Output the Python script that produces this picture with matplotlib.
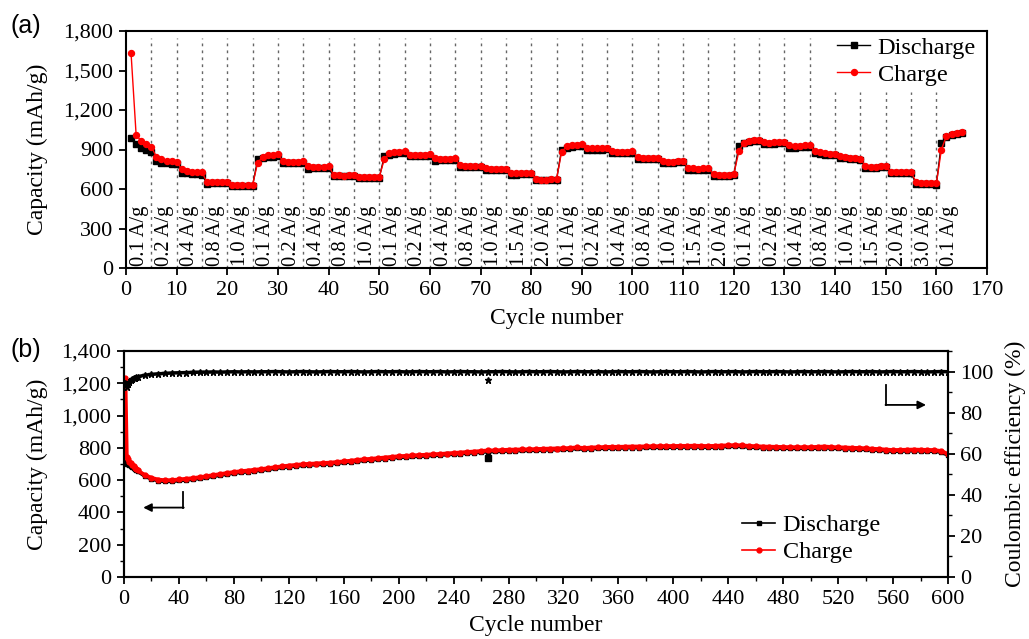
import matplotlib
matplotlib.use("Agg")
import matplotlib.pyplot as plt
from matplotlib.ticker import FuncFormatter, MultipleLocator

plt.rcParams['font.family'] = ['Liberation Serif', 'DejaVu Serif']
plt.rcParams['mathtext.fontset'] = 'stix'

# ---------------- Panel (a) data: rate capability ----------------
rates = ["0.1", "0.2", "0.4", "0.8", "1.0",
         "0.1", "0.2", "0.4", "0.8", "1.0",
         "0.1", "0.2", "0.4", "0.8", "1.0", "1.5", "2.0",
         "0.1", "0.2", "0.4", "0.8", "1.0", "1.5", "2.0",
         "0.1", "0.2", "0.4", "0.8", "1.0", "1.5", "2.0", "3.0", "0.1"]

discharge_a = [985, 945, 915, 895, 880,
               815, 800, 795, 792, 790,
               725, 718, 715, 712, 710,
               640, 642, 643, 645, 645,
               622, 622, 624, 624, 625,
               828, 838, 842, 845, 848,
               795, 795, 796, 797, 800,
               755, 757, 758, 758, 760,
               695, 695, 696, 697, 698,
               680, 680, 681, 682, 683,
               850, 862, 868, 872, 876,
               850, 850, 851, 852, 853,
               815, 818, 818, 819, 820,
               765, 765, 766, 767, 768,
               745, 746, 746, 747, 748,
               710, 710, 711, 712, 712,
               665, 665, 666, 667, 668,
               900, 915, 922, 926, 930,
               898, 898, 899, 900, 902,
               870, 872, 872, 873, 875,
               825, 826, 826, 827, 828,
               800, 800, 801, 802, 803,
               745, 746, 746, 747, 748,
               700, 701, 701, 702, 703,
               930, 948, 958, 962, 965,
               945, 942, 944, 946, 948,
               915, 915, 916, 917, 918,
               870, 866, 862, 860, 858,
               838, 834, 830, 826, 822,
               762, 762, 763, 764, 765,
               718, 718, 719, 720, 721,
               640, 638, 636, 635, 634,
               950, 995, 1008, 1015, 1022]

charge_a = [1630, 1010, 965, 940, 920,
            845, 825, 815, 812, 808,
            750, 738, 732, 730, 728,
            650, 652, 652, 654, 654,
            632, 630, 632, 632, 634,
            800, 845, 855, 860, 865,
            812, 805, 805, 806, 810,
            772, 768, 768, 768, 772,
            710, 704, 702, 703, 705,
            690, 688, 689, 690, 692,
            825, 870, 878, 883, 888,
            862, 860, 860, 861, 864,
            835, 830, 830, 831, 833,
            780, 776, 775, 776, 778,
            756, 752, 752, 753, 755,
            722, 718, 718, 719, 720,
            675, 672, 672, 673, 675,
            880, 925, 932, 935, 940,
            915, 910, 910, 912, 915,
            888, 884, 883, 884, 886,
            842, 838, 836, 836, 838,
            812, 808, 808, 809, 810,
            760, 756, 755, 756, 758,
            712, 708, 708, 709, 712,
            885, 952, 965, 975, 972,
            958, 952, 955, 958, 960,
            935, 930, 930, 931, 933,
            885, 878, 872, 868, 866,
            848, 842, 838, 834, 830,
            775, 770, 770, 771, 772,
            730, 726, 726, 727, 728,
            655, 648, 645, 644, 642,
            900, 1003, 1018, 1023, 1032]

cycles_a = list(range(1, len(charge_a) + 1))

# ---------------- Panel (b) data: long cycling ----------------
cycles_b = [1, 2, 3, 4, 5, 6, 7, 8, 9, 10,
            15, 20, 25, 30, 35, 40, 45, 50, 55, 60,
            65, 70, 75, 80, 85, 90, 95, 100, 105, 110,
            115, 120, 125, 130, 135, 140, 145, 150, 155, 160,
            165, 170, 175, 180, 185, 190, 195, 200, 205, 210,
            215, 220, 225, 230, 235, 240, 245, 250, 255, 260,
            265, 270, 275, 280, 285, 290, 295, 300, 305, 310,
            315, 320, 325, 330, 335, 340, 345, 350, 355, 360,
            365, 370, 375, 380, 385, 390, 395, 400, 405, 410,
            415, 420, 425, 430, 435, 440, 445, 450, 455, 460,
            465, 470, 475, 480, 485, 490, 495, 500, 505, 510,
            515, 520, 525, 530, 535, 540, 545, 550, 555, 560,
            565, 570, 575, 580, 585, 590, 595, 600]

charge_b = [1230, 745, 728, 715, 705, 695, 685, 676, 668, 660,
            632, 614, 603, 599, 600, 604, 608, 612, 618, 624,
            631, 637, 644, 650, 655, 659, 664, 668, 674, 680,
            685, 690, 694, 698, 701, 703, 706, 708, 712, 716,
            720, 725, 729, 732, 736, 740, 744, 748, 750, 753,
            755, 757, 760, 762, 765, 768, 771, 774, 777, 780,
            784, 784, 786, 788, 789, 790, 791, 792, 794, 795,
            796, 797, 799, 803, 798, 802, 803, 805, 806, 806,
            807, 808, 808, 809, 810, 810, 811, 811, 812, 812,
            813, 812, 811, 812, 814, 815, 817, 815, 812, 810,
            808, 807, 806, 805, 804, 804, 804, 804, 806, 808,
            805, 803, 802, 800, 799, 797, 794, 792, 789, 786,
            787, 788, 789, 788, 787, 786, 780, 762]

discharge_b = [710, 700, 697, 692, 688, 682, 676, 669, 662, 655,
               627, 608, 597, 593, 594, 598, 602, 606, 612, 618,
               625, 631, 638, 644, 649, 653, 658, 662, 668, 674,
               679, 684, 688, 692, 695, 697, 700, 702, 706, 710,
               714, 719, 723, 726, 730, 734, 738, 742, 744, 747,
               749, 751, 754, 756, 759, 762, 765, 768, 771, 774,
               777, 778, 780, 782, 783, 784, 785, 786, 788, 789,
               790, 791, 793, 797, 792, 796, 797, 799, 800, 800,
               801, 802, 802, 803, 804, 804, 805, 805, 806, 806,
               807, 806, 805, 806, 808, 809, 811, 809, 806, 804,
               802, 801, 800, 799, 798, 798, 798, 798, 800, 802,
               799, 797, 796, 794, 793, 791, 788, 786, 783, 780,
               781, 782, 783, 782, 781, 780, 774, 756]

ce_b = [94.5, 92.5, 94.0, 95.0, 95.8, 96.3, 96.7, 97.0, 97.3, 97.5,
        98.2, 98.6, 98.9, 99.1, 99.3, 99.4, 99.5, 99.6, 99.7, 99.7,
        99.8, 99.7, 99.8, 99.9, 99.8, 99.9, 99.8, 99.9, 99.9, 100.0,
        99.9, 99.8, 99.9, 100.0, 99.9, 99.8, 99.9, 100.0, 99.9, 99.9,
        100.0, 99.9, 99.8, 99.9, 100.0, 99.9, 99.9, 100.0, 99.8, 99.9,
        100.0, 99.9, 99.9, 100.0, 99.8, 99.9, 100.0, 99.9, 99.9, 99.8,
        99.9, 99.9, 100.0, 99.9, 99.8, 99.9, 100.0, 99.9, 99.9, 100.0,
        99.9, 99.8, 99.9, 100.0, 99.9, 99.9, 100.0, 99.8, 99.9, 100.0,
        99.9, 99.9, 100.0, 99.9, 99.8, 99.9, 100.0, 99.9, 99.9, 100.0,
        99.9, 99.8, 99.9, 100.0, 99.9, 99.9, 100.0, 99.8, 99.9, 100.0,
        99.9, 99.9, 100.0, 99.9, 99.8, 99.9, 100.0, 99.9, 99.9, 100.0,
        99.9, 99.8, 99.9, 100.0, 99.9, 99.9, 100.0, 99.8, 99.9, 100.0,
        99.9, 99.9, 100.0, 99.9, 99.8, 99.9, 100.0, 99.9]

# isolated outlier points (cycle 265)
outlier_cycle = [265]
outlier_discharge = [739]
outlier_ce = [95.8]

# ---------------- Figure ----------------
fig = plt.figure(figsize=(10.29, 6.39), dpi=100)
TICK_FS = 16
LAB_FS = 17
comma = FuncFormatter(lambda v, p: f"{int(v):,}")

# Panel (a)
ax1 = fig.add_axes([126/1029, 1-268/639, (987-126)/1029, (268-31)/639])
seg_len = 5
for k in range(1, len(rates)):
    xb = k * seg_len
    top = 1337 if xb >= 140 else 1745
    ax1.plot([xb, xb], [0, top], color='#666666', lw=1.0,
             linestyle=(0, (2, 3)), zorder=1)
for k, r in enumerate(rates):
    ax1.text(k * seg_len + 2.6, 18, f"{r} A/g", rotation=90, ha='center',
             va='bottom', fontsize=14.8, zorder=2)
ax1.plot(cycles_a, discharge_a, color='black', marker='s', markersize=4,
         lw=1.0, label='Discharge', zorder=3)
ax1.plot(cycles_a, charge_a, color='red', marker='o', markersize=4.3,
         lw=1.0, label='Charge', zorder=4)
ax1.set_xlim(0, 170)
ax1.set_ylim(0, 1800)
ax1.xaxis.set_major_locator(MultipleLocator(10))
ax1.yaxis.set_major_locator(MultipleLocator(300))
ax1.yaxis.set_major_formatter(comma)
ax1.tick_params(direction='out', length=5, width=1.3, labelsize=TICK_FS, pad=4)
for s in ax1.spines.values():
    s.set_linewidth(1.5)
ax1.set_xlabel('Cycle number', fontsize=LAB_FS, labelpad=6)
ax1.set_ylabel('Capacity (mAh/g)', fontsize=LAB_FS, labelpad=11)
ax1.legend(loc='upper left', bbox_to_anchor=((835-126)/861, 0.985),
           frameon=False, fontsize=17.5, handlelength=1.35, handletextpad=0.3,
           labelspacing=0.2, borderpad=0.1, borderaxespad=0)

# Panel (b)
ax2 = fig.add_axes([124/1029, 1-577/639, (948-124)/1029, (577-351)/639])
ax3 = ax2.twinx()
ax2.plot(cycles_b, discharge_b, color='black', marker='s', markersize=3.5,
         lw=2.8, label='Discharge', zorder=3)
ax2.plot(cycles_b, charge_b, color='red', marker='o', markersize=3.5,
         lw=2.8, label='Charge', zorder=4)
ax2.plot(outlier_cycle, outlier_discharge, color='black', marker='s',
         markersize=4, linestyle='none', zorder=5)
ax3.plot(cycles_b, ce_b, color='black', marker='*', markersize=5,
         lw=2.5, zorder=3)
ax3.plot(outlier_cycle, outlier_ce, color='black', marker='*', markersize=5,
         linestyle='none', zorder=3)
ax2.set_xlim(0, 600)
ax2.set_ylim(0, 1400)
ax3.set_ylim(0, 110)
ax2.xaxis.set_major_locator(MultipleLocator(40))
ax2.xaxis.set_minor_locator(MultipleLocator(20))
ax2.yaxis.set_major_locator(MultipleLocator(200))
ax2.yaxis.set_minor_locator(MultipleLocator(100))
ax2.yaxis.set_major_formatter(comma)
ax3.yaxis.set_major_locator(MultipleLocator(20))
ax3.yaxis.set_minor_locator(MultipleLocator(10))
for a in (ax2, ax3):
    a.tick_params(which='major', direction='out', length=5, width=1.3,
                  labelsize=TICK_FS, pad=4)
    a.tick_params(which='minor', direction='out', length=3, width=1.0)
    for s in a.spines.values():
        s.set_linewidth(1.5)
ax2.set_xlabel('Cycle number', fontsize=LAB_FS, labelpad=5)
ax2.set_ylabel('Capacity (mAh/g)', fontsize=LAB_FS, labelpad=10)
ax3.set_ylabel('Coulombic efficiency (%)', fontsize=LAB_FS, labelpad=8)
leg = ax2.legend(loc='upper left', bbox_to_anchor=((740-124)/824, (577-512)/226),
                 frameon=False, fontsize=17.5, handlelength=1.35,
                 handletextpad=0.3, labelspacing=0.2, borderpad=0.1,
                 borderaxespad=0)
for h in leg.get_lines():
    h.set_linewidth(1.2)

# Arrows
ax2.plot([43, 43], [528, 430], color='black', lw=1.3)
ax2.annotate('', xy=(14, 430), xytext=(43.5, 430),
             arrowprops=dict(arrowstyle='-|>', color='black', lw=1.3,
                             mutation_scale=12, shrinkA=0, shrinkB=0))
ax2.plot([555, 555], [1190, 1066], color='black', lw=1.3)
ax2.annotate('', xy=(584, 1066), xytext=(554.5, 1066),
             arrowprops=dict(arrowstyle='-|>', color='black', lw=1.3,
                             mutation_scale=12, shrinkA=0, shrinkB=0))

# Panel letters
fig.text(10/1029, 1-26/639, '(a)', family='Liberation Sans', fontsize=18,
         va='center', ha='left')
fig.text(10/1029, 1-350/639, '(b)', family='Liberation Sans', fontsize=18,
         va='center', ha='left')

fig.savefig('out.png', dpi=100)
